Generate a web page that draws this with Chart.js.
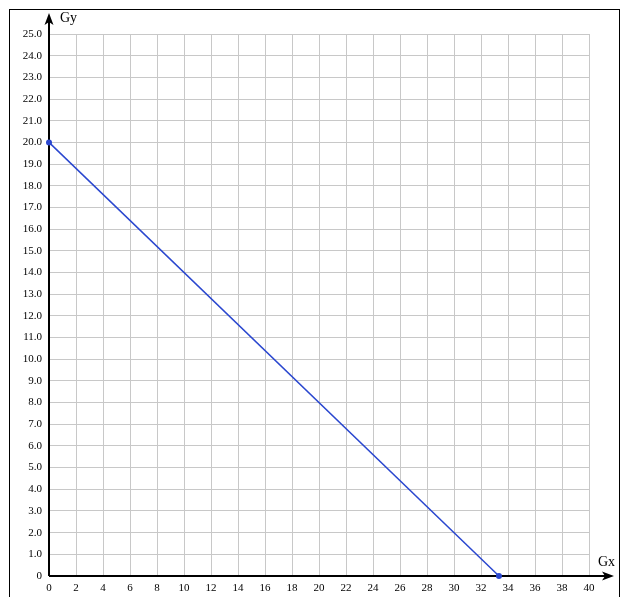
<!DOCTYPE html>
<html>
<head>
<meta charset="utf-8">
<script src="https://cdn.jsdelivr.net/npm/chart.js@4/dist/chart.umd.min.js"></script>
<style>
    html, body { margin: 0; padding: 0; background: #fff; overflow: hidden; }
    #wrap { position: relative; width: 627px; height: 597px; }
    #frame {
        position: absolute; left: 9px; top: 9px;
        width: 611px; height: 620px;
        border: 1.5px solid #000; box-sizing: border-box;
    }
    #chart { position: absolute; left: 0; top: 0; }
</style>
</head>
<body>
<div id="wrap">
    <div id="frame"></div>
    <canvas id="chart" width="627" height="597"></canvas>
</div>
<script>
// بيانات الخط
const lineX = [0, 33.33];
const lineY = [20, 0];

// حدود المحاور
const xRange = [0, 40];
const yRange = [0, 25];
const xStep = 2;
const yStep = 1;

const axisTitles = { x: 'Gx', y: 'Gy' };
const lineColor = '#2a47cf';
const gridColor = '#c8c8c8';
const serif = '"Liberation Serif", "Times New Roman", serif';

// ====================================
// رسم المحاور مع الأسهم
// ====================================
const arrowAxes = {
    id: 'arrowAxes',
    beforeDatasetsDraw(chart) {
        const { ctx, scales } = chart;
        const x0 = scales.x.getPixelForValue(0);
        const y0 = scales.y.getPixelForValue(0);
        ctx.save();
        ctx.strokeStyle = '#000';
        ctx.fillStyle = '#000';
        ctx.lineWidth = 2;

        // المحور العمودي
        ctx.beginPath();
        ctx.moveTo(x0, y0);
        ctx.lineTo(x0, 20);
        ctx.stroke();
        ctx.beginPath();
        ctx.moveTo(x0, 13);
        ctx.lineTo(x0 - 4.5, 25);
        ctx.lineTo(x0, 22);
        ctx.lineTo(x0 + 4.5, 25);
        ctx.closePath();
        ctx.fill();

        // المحور الأفقي
        ctx.beginPath();
        ctx.moveTo(x0, y0);
        ctx.lineTo(606, y0);
        ctx.stroke();
        ctx.beginPath();
        ctx.moveTo(614, y0);
        ctx.lineTo(602, y0 - 4.5);
        ctx.lineTo(605, y0);
        ctx.lineTo(602, y0 + 4.5);
        ctx.closePath();
        ctx.fill();

        // عناوين المحاور
        ctx.font = '14px ' + serif;
        ctx.textBaseline = 'alphabetic';
        ctx.textAlign = 'left';
        ctx.fillText(axisTitles.y, 60, 22);
        ctx.fillText(axisTitles.x, 598, 566);
        ctx.restore();
    }
};

const ctx = document.getElementById('chart');

new Chart(ctx, {
    type: 'scatter',
    data: {
        datasets: [{
            data: lineX.map((x, i) => ({ x: x, y: lineY[i] })),
            showLine: true,
            clip: false,
            borderColor: lineColor,
            backgroundColor: lineColor,
            borderWidth: 1.5,
            pointRadius: 3,
            pointBorderWidth: 0,
            pointHoverRadius: 3
        }]
    },
    options: {
        responsive: false,
        animation: false,
        devicePixelRatio: 1,
        layout: { padding: { left: 0, top: 34, right: 38, bottom: 0 } },
        plugins: {
            legend: { display: false },
            tooltip: { enabled: false }
        },
        scales: {
            x: {
                type: 'linear',
                min: xRange[0],
                max: xRange[1],
                afterFit(scale) { scale.height = 21; },
                border: { display: false },
                grid: { color: gridColor, lineWidth: 1, drawTicks: false },
                ticks: {
                    stepSize: xStep,
                    autoSkip: false,
                    maxRotation: 0,
                    padding: 6,
                    color: '#000',
                    font: { family: serif, size: 11 },
                    callback: v => String(v)
                }
            },
            y: {
                type: 'linear',
                min: yRange[0],
                max: yRange[1],
                afterFit(scale) { scale.width = 49; },
                border: { display: false },
                grid: { color: gridColor, lineWidth: 1, drawTicks: false },
                ticks: {
                    stepSize: yStep,
                    autoSkip: false,
                    padding: 7,
                    color: '#000',
                    font: { family: serif, size: 11 },
                    callback: v => v === 0 ? '0' : v.toFixed(1)
                }
            }
        }
    },
    plugins: [arrowAxes]
});
</script>
</body>
</html>
